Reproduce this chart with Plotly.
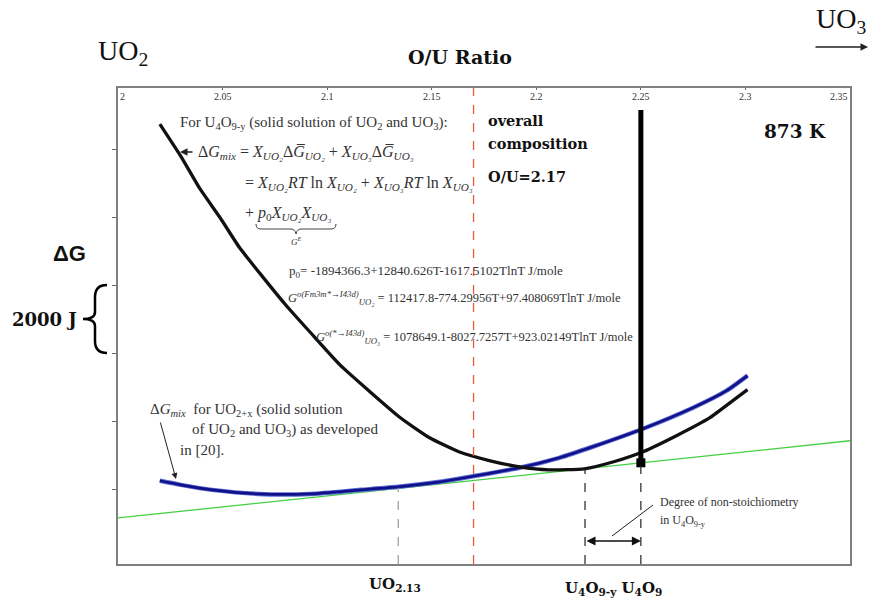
import plotly.graph_objects as go

# ---------------- data (O/U ratio, Gibbs energy in J, relative) ----------------
u4o9_x = [2.020, 2.030, 2.039, 2.049, 2.058, 2.069, 2.080, 2.092, 2.106, 2.121,
          2.135, 2.149, 2.163, 2.178, 2.192, 2.206, 2.223, 2.237, 2.251, 2.267,
          2.283, 2.294, 2.301]
u4o9_g = [10735, 9794, 8853, 7971, 7118, 6265, 5441, 4618, 3676, 2853,
          2118, 1529, 1118, 853, 676, 588, 618, 824, 1118, 1588,
          2118, 2618, 2941]

uo2x_x = [2.020, 2.030, 2.045, 2.067, 2.092, 2.116, 2.134, 2.154, 2.171, 2.192,
          2.211, 2.227, 2.251, 2.275, 2.291, 2.301]
uo2x_g = [265, 147, 0, -118, -118, 0, 88, 235, 412, 647,
          941, 1265, 1794, 2412, 2912, 3353]

tangent_x = [2.0, 2.35]
tangent_g = [-824, 1441]

x_ticks = [2.0, 2.05, 2.1, 2.15, 2.2, 2.25, 2.3, 2.35]
x_tick_labels = ["2", "2.05", "2.1", "2.15", "2.2", "2.25", "2.3", "2.35"]
y_ticks = [0, 2000, 4000, 6000, 8000, 10000]

overall_ou = 2.17
uo2_tangent_x = 2.134
uo2_tangent_g = 60
u4o9y_x = 2.2233
u4o9y_g = 620
u4o9_stoich_x = 2.25
u4o9_stoich_g = 794
thick_top_g = 11147
arrow_g = -1500

x_range = [2.0, 2.35]
y_range = [-2176, 11794]

# ---------------- figure geometry helpers ----------------
L, R, T, B = 118, 850, 88, 564
W, H = R - L, B - T


def px(x):
    return (x - L) / W


def py(y):
    return (B - y) / H


def path(points_cmds):
    out = []
    for item in points_cmds:
        if isinstance(item, str):
            out.append(item)
        else:
            out.append(f"{px(item[0]):.5f},{py(item[1]):.5f}")
    return " ".join(out)


SERIF = "Liberation Serif"
BSERIF = "DejaVu Serif"
SANS = "Liberation Sans"

fig = go.Figure()

# tangent line (green)
fig.add_trace(go.Scatter(x=tangent_x, y=tangent_g, mode="lines",
                         line=dict(color="#44d044", width=1.3), hoverinfo="skip"))
# UO2+x curve (blue) with halo
fig.add_trace(go.Scatter(x=uo2x_x, y=uo2x_g, mode="lines", line_shape="spline",
                         line=dict(color="#5a6ad0", width=4.5, smoothing=0.6), hoverinfo="skip"))
fig.add_trace(go.Scatter(x=uo2x_x, y=uo2x_g, mode="lines", line_shape="spline",
                         line=dict(color="#10108a", width=2.6, smoothing=0.6), hoverinfo="skip"))
# U4O9-y curve (black)
fig.add_trace(go.Scatter(x=u4o9_x, y=u4o9_g, mode="lines", line_shape="spline",
                         line=dict(color="#111111", width=3.3, smoothing=0.5), hoverinfo="skip"))
# thick vertical line at U4O9 and square marker
fig.add_trace(go.Scatter(x=[u4o9_stoich_x, u4o9_stoich_x], y=[u4o9_stoich_g, thick_top_g],
                         mode="lines", line=dict(color="black", width=5), hoverinfo="skip"))
fig.add_trace(go.Scatter(x=[u4o9_stoich_x], y=[u4o9_stoich_g], mode="markers",
                         marker=dict(symbol="square", size=9, color="black"), hoverinfo="skip"))

shapes = []
# red dashed overall composition
shapes.append(dict(type="line", xref="x", yref="paper", x0=overall_ou, x1=overall_ou, y0=0, y1=1,
                   line=dict(color="#ec5a3c", width=1.3, dash="dash")))
# gray dashed at UO2.13
shapes.append(dict(type="line", xref="x", yref="y", x0=uo2_tangent_x, x1=uo2_tangent_x,
                   y0=y_range[0], y1=uo2_tangent_g, line=dict(color="#999999", width=1.2, dash="dash")))
# black dashed at U4O9-y and U4O9
for xv, gv in [(u4o9y_x, u4o9y_g), (u4o9_stoich_x, u4o9_stoich_g)]:
    shapes.append(dict(type="line", xref="x", yref="y", x0=xv, x1=xv, y0=y_range[0], y1=gv,
                       line=dict(color="#222222", width=1.2, dash="dash")))
# curly brace for 2000 J
shapes.append(dict(type="path", xref="paper", yref="paper",
                   path=path(["M", (107, 285), "Q", (95, 285), (95, 297), "L", (95, 312),
                              "Q", (95, 319), (83, 319), "Q", (95, 319), (95, 326), "L", (95, 341),
                              "Q", (95, 353), (107, 353)]),
                   line=dict(color="black", width=2.5)))
# underbrace under p0 X X
shapes.append(dict(type="path", xref="paper", yref="paper",
                   path=path(["M", (256, 224), "Q", (256, 229), (261, 229), "L", (291, 229),
                              "Q", (295, 229), (296, 234), "Q", (297, 229), (301, 229), "L", (331, 229),
                              "Q", (336, 229), (336, 224)]),
                   line=dict(color="#444444", width=1)))
# leader line for degree of non-stoichiometry
shapes.append(dict(type="line", xref="paper", yref="paper", x0=px(653), y0=py(505), x1=px(612), y1=py(536),
                   line=dict(color="#222222", width=1)))

ann = []


def txt(x, y, text, size, family=SERIF, xanchor="left", color="#111111", yanchor="middle",
        weight="normal"):
    ann.append(dict(xref="paper", yref="paper", x=px(x), y=py(y), text=text, showarrow=False,
                    xanchor=xanchor, yanchor=yanchor,
                    font=dict(family=family, size=size, color=color, weight=weight)))


# top tick labels (inside the frame)
for tv, tl in zip(x_ticks, x_tick_labels):
    anchor = "left" if tv == x_ticks[0] else ("right" if tv == x_ticks[-1] else "center")
    ann.append(dict(xref="x", yref="paper", x=tv, y=py(96), text=tl, showarrow=False,
                    xanchor=anchor, yanchor="middle", font=dict(family=SERIF, size=10, color="#333333")))

# outside labels
txt(96, 52, "UO<sub>2</sub>", 28)
txt(460, 57, "O/U Ratio", 19, family=BSERIF, xanchor="center", weight="bold")
txt(814, 20, "UO<sub>3</sub>", 28)
txt(69, 253, "ΔG", 22, family=SANS, xanchor="center", weight="bold")
txt(44, 319, "2000 J", 18, family=BSERIF, xanchor="center", weight="bold")
txt(395, 584, "UO<sub>2.13</sub>", 15, family=BSERIF, xanchor="center", weight="bold")
txt(563, 588, "U<sub>4</sub>O<sub>9-y</sub> U<sub>4</sub>O<sub>9</sub>", 15, family=BSERIF, weight="bold")

# formula block
txt(178, 123, "For U<sub>4</sub>O<sub>9-y</sub> (solid solution of UO<sub>2</sub> and UO<sub>3</sub>):", 15, color="#333333")
txt(196, 152, "Δ<i>G</i><sub><i>mix</i></sub> = <i>X</i><sub><i>UO₂</i></sub>Δ<i>G̅</i><sub><i>UO₂</i></sub>"
    " + <i>X</i><sub><i>UO₃</i></sub>Δ<i>G̅</i><sub><i>UO₃</i></sub>", 16, color="#333333")
txt(243, 184, "= <i>X</i><sub><i>UO₂</i></sub><i>RT</i> ln <i>X</i><sub><i>UO₂</i></sub>"
    " + <i>X</i><sub><i>UO₃</i></sub><i>RT</i> ln <i>X</i><sub><i>UO₃</i></sub>", 16, color="#333333")
txt(243, 214, "+ <i>p</i><sub>0</sub><i>X</i><sub><i>UO₂</i></sub><i>X</i><sub><i>UO₃</i></sub>", 16, color="#333333")
txt(296, 241, "<i>G</i><sup><i>E</i></sup>", 9, xanchor="center", color="#333333")

txt(287, 271, "p<sub>0</sub>= -1894366.3+12840.626T-1617.5102TlnT J/mole", 13, color="#333333")
txt(286, 298, "<i>G</i><sup><i>o(Fm3m*→I43d)</i></sup><sub><i>UO₂</i></sub>"
    " = 112417.8-774.29956T+97.408069TlnT J/mole", 12.5, color="#333333")
txt(314, 337, "<i>G</i><sup><i>o(*→I43d)</i></sup><sub><i>UO₃</i></sub>"
    " = 1078649.1-8027.7257T+923.02149TlnT J/mole", 12.5, color="#333333")

txt(486, 120, "overall", 14.5, family=BSERIF, weight="bold")
txt(486, 143, "composition", 14.5, family=BSERIF, weight="bold")
txt(486, 176, "O/U=2.17", 14.5, family=BSERIF, weight="bold")
txt(795, 131, "873 K", 18.5, family=BSERIF, xanchor="center", weight="bold")

txt(148, 410, "Δ<i>G</i><sub><i>mix</i></sub>  for UO<sub>2+x</sub> (solid solution", 15, color="#333333")
txt(190, 430, "of UO<sub>2</sub> and UO<sub>3</sub>) as developed", 15, color="#333333")
txt(178, 450, "in [20].", 15, color="#333333")

txt(658, 502, "Degree of non-stoichiometry", 12, color="#333333")
txt(658, 521, "in U<sub>4</sub>O<sub>9-y</sub>", 12, color="#333333")

# arrows
ann.append(dict(xref="paper", yref="paper", x=px(176), y=py(479), ax=-16, ay=-58, text="",
                showarrow=True, arrowhead=2, arrowsize=1.2, arrowwidth=1, arrowcolor="#222222"))
ann.append(dict(xref="paper", yref="paper", x=px(180), y=py(152), ax=14, ay=0, text="",
                showarrow=True, arrowhead=2, arrowsize=1, arrowwidth=1.5, arrowcolor="#222222"))
ann.append(dict(xref="paper", yref="paper", x=px(868), y=py(47), ax=-54, ay=0, text="",
                showarrow=True, arrowhead=2, arrowsize=1, arrowwidth=1.5, arrowcolor="#222222"))
ann.append(dict(xref="x", yref="y", axref="x", ayref="y", x=u4o9_stoich_x, y=arrow_g,
                ax=u4o9y_x, ay=arrow_g, text="", showarrow=True, arrowhead=2, startarrowhead=2,
                arrowside="end+start", arrowsize=1.2, arrowwidth=1.5, arrowcolor="#111111",
                standoff=0, startstandoff=0))

fig.update_layout(
    width=870, height=602,
    margin=dict(l=L, r=870 - R, t=T, b=602 - B),
    paper_bgcolor="white", plot_bgcolor="white",
    showlegend=False,
    shapes=shapes, annotations=ann,
    xaxis=dict(range=x_range, side="top", tickvals=x_ticks, showticklabels=False,
               ticks="inside", ticklen=2, tickcolor="#666666",
               showline=True, linecolor="#808080", linewidth=2, mirror=True,
               showgrid=False, zeroline=False, fixedrange=True),
    yaxis=dict(range=y_range, tickvals=y_ticks, showticklabels=False, ticks="outside",
               ticklen=4, tickcolor="#666666",
               showline=True, linecolor="#808080", linewidth=2, mirror=True,
               showgrid=False, zeroline=False, fixedrange=True),
)

fig.write_html("out.html")
